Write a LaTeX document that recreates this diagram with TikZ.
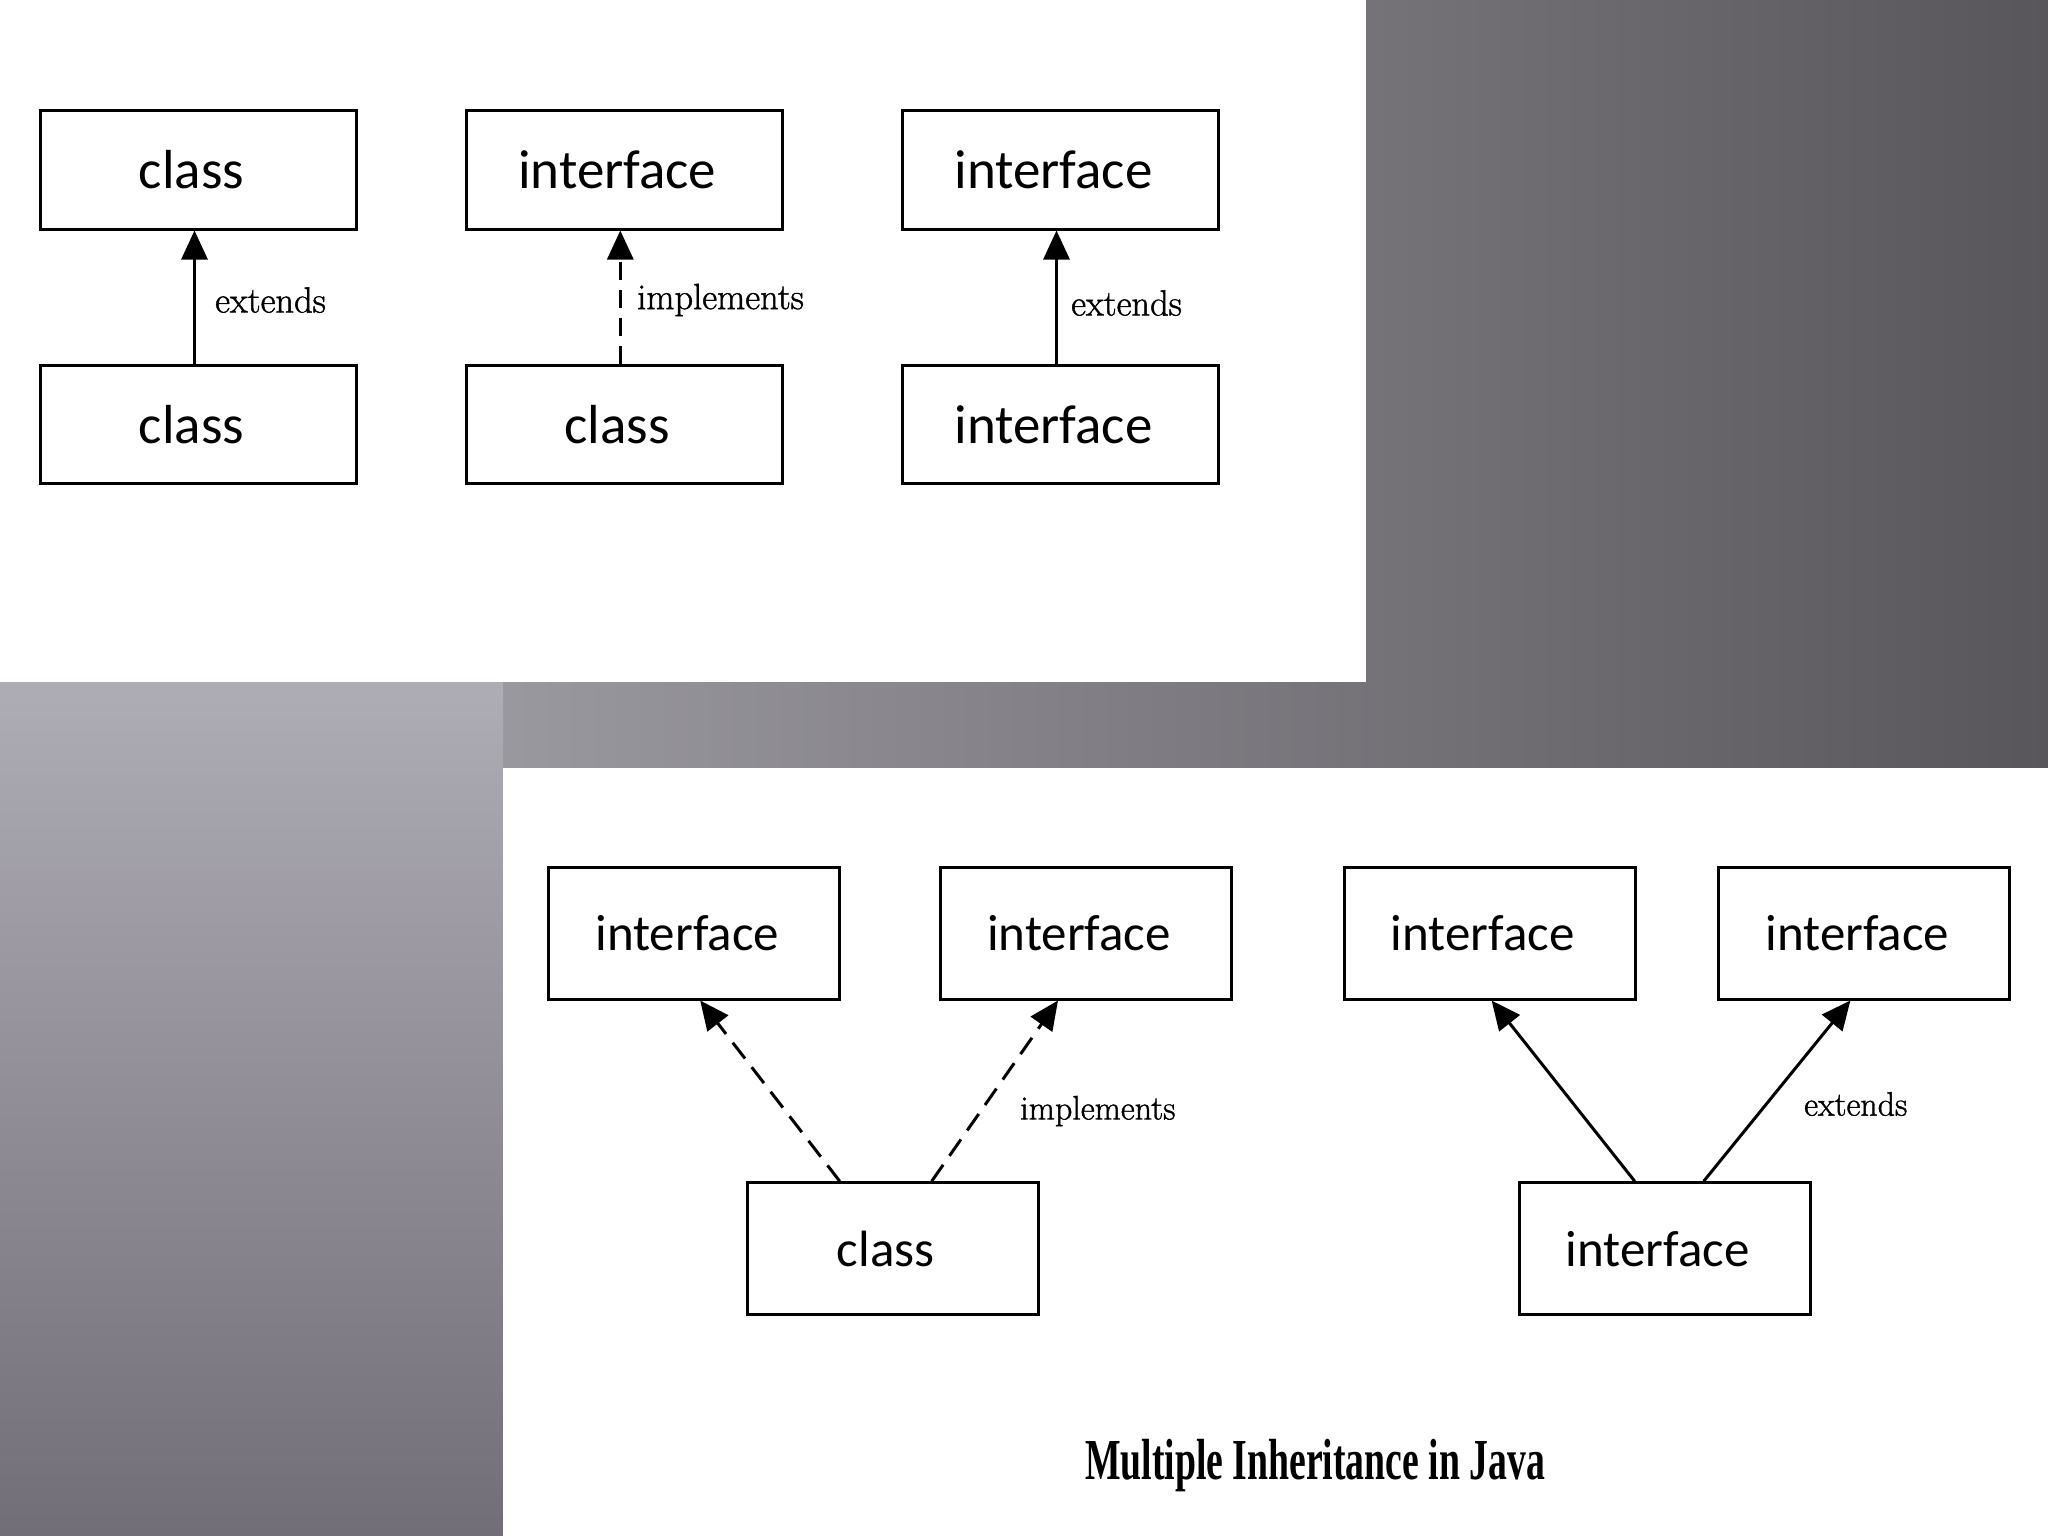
\documentclass[tikz,border=0pt]{standalone}
\usepackage{fontspec}
\usepackage{graphicx}
\usetikzlibrary{arrows.meta}
\newfontfamily\boxfont{Carlito}
\newfontfamily\capfont{Liberation Serif}
\newfontfamily\labfont[FakeBold=1.2]{Latin Modern Roman}
\definecolor{bgL}{HTML}{B0AEB6}
\definecolor{bgR}{HTML}{58565A}
\definecolor{stT}{HTML}{AEACB4}
\definecolor{stB}{HTML}{726E77}
\tikzset{
  panel/.style={fill=white, draw=none},
  boxA/.style={draw, line width=3pt, fill=white, minimum width=316pt, minimum height=118pt, inner sep=0pt, font=\boxfont\fontsize{55}{60}\selectfont},
  boxB/.style={draw, line width=3pt, fill=white, minimum width=291pt, minimum height=132pt, inner sep=0pt, font=\boxfont\fontsize{51}{56}\selectfont},
  labA/.style={anchor=west, inner sep=0pt, font=\labfont\fontsize{36.5}{40}\selectfont},
  labB/.style={anchor=west, inner sep=0pt, font=\labfont\fontsize{34}{38}\selectfont},
  solidarrow/.style={line width=3pt, -{Triangle[length=29pt,width=26pt]}},
  dasharrow/.style={line width=3pt, dash pattern=on 20pt off 11pt, -{Triangle[length=29pt,width=26pt]}},
}
\begin{document}
\begin{tikzpicture}[x=1pt,y=-1pt]
\useasboundingbox (0,0) rectangle (2048,1536);
% background
\shade[left color=bgL, right color=bgR] (0,0) rectangle (2048,1536);
\shade[top color=stT, bottom color=stB] (0,682) rectangle (503,1536);
% panels
\fill[panel] (0,0) rectangle (1366,682);
\fill[panel] (503,768) rectangle (2048,1536);
% top row
\node[boxA] (t1) at (198.5,170) {\kern-14pt class};
\node[boxA] (b1) at (198.5,424.5) {\kern-14pt class};
\node[boxA] (t2) at (624.3,170) {\kern-14pt interface};
\node[boxA] (b2) at (624.3,424.5) {\kern-14pt class};
\node[boxA] (t3) at (1060.5,170) {\kern-14pt interface};
\node[boxA] (b3) at (1060.5,424.5) {\kern-14pt interface};
\draw[solidarrow] ([xshift=-4pt]b1.north) -- ([xshift=-4pt]t1.south);
\draw[dasharrow, dash pattern=on 18pt off 10pt] ([xshift=-4pt]b2.north) -- ([xshift=-4pt]t2.south);
\draw[solidarrow] ([xshift=-4pt]b3.north) -- ([xshift=-4pt]t3.south);
\node[labA] (l1) at (215,300) {extends};
\node[labA] (l2) at (637,300) {implements};
\node[labA] (l3) at (1071,303) {extends};
% bottom row
\node[boxB] (i1) at (694.2,933) {\kern-14pt interface};
\node[boxB] (i2) at (1086,933) {\kern-14pt interface};
\node[boxB] (i3) at (1489.6,933) {\kern-14pt interface};
\node[boxB] (i4) at (1864.4,933) {\kern-14pt interface};
\node[boxB] (cl) at (892.7,1248.7) {\kern-14pt class};
\node[boxB] (ib) at (1664.7,1248.7) {\kern-14pt interface};
\draw[dasharrow] ([xshift=-53pt]cl.north) -- ([xshift=6pt]i1.south);
\draw[dasharrow] ([xshift=39pt]cl.north) -- ([xshift=-28pt]i2.south);
\draw[solidarrow] ([xshift=-30pt]ib.north) -- ([xshift=2pt]i3.south);
\draw[solidarrow] ([xshift=39pt]ib.north) -- ([xshift=-14pt]i4.south);
\node[labB] (l4) at (1020,1111) {implements};
\node[labB] (l5) at (1804,1104) {extends};
\node[inner sep=0pt] (cap) at (1315,1466) {\scalebox{0.65}[1]{\capfont\bfseries\fontsize{58}{64}\selectfont Multiple Inheritance in Java}};
\end{tikzpicture}
\end{document}
